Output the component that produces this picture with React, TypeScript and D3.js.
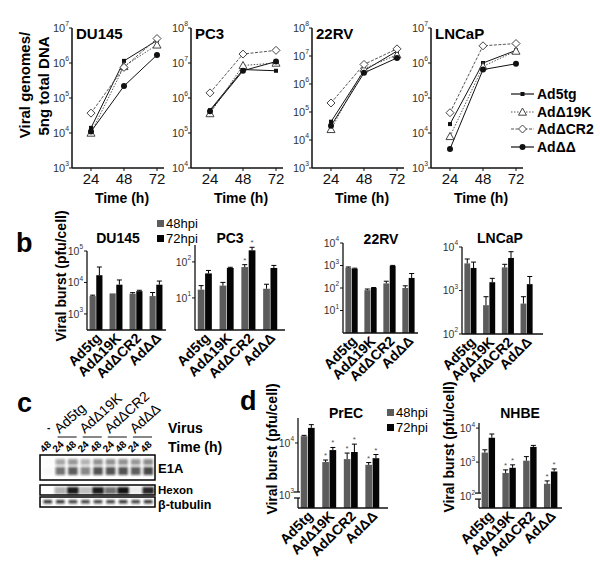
import React from 'react';
import * as d3 from 'd3';

const FONT = 'Liberation Sans, Arial, Helvetica, sans-serif';

const VIRUSES = ['Ad5tg', 'AdΔ19K', 'AdΔCR2', 'AdΔΔ'];
const HOURS = [24, 48, 72];
const HPI = ['48hpi', '72hpi'];

// Panel a: viral genomes / 5 ng total DNA (rows = VIRUSES, cols = HOURS)
const genomesDU145 = [
  [1.4e4, 1.15e6, 4.4e6],
  [1.0e4, 8.0e5, 3.3e6],
  [3.7e4, 7.5e5, 5.0e6],
  [1.1e4, 2.2e5, 1.7e6],
];
const genomesPC3 = [
  [4.5e5, 6.5e6, 6.0e6],
  [3.6e5, 8.5e6, 1.0e7],
  [1.4e6, 1.8e7, 2.3e7],
  [4.2e5, 6.0e6, 1.1e7],
];
const genomes22RV = [
  [4.5e4, 3.0e6, 1.5e7],
  [2.4e4, 3.5e6, 1.1e7],
  [2.1e5, 5.0e6, 1.8e7],
  [3.2e4, 2.5e6, 8.5e6],
];
const genomesLNCaP = [
  [1.8e4, 1.0e6, 2.3e6],
  [8.0e3, 8.0e5, 2.2e6],
  [3.8e4, 3.1e6, 3.6e6],
  [3.5e3, 6.5e5, 9.5e5],
];

// Panel b: viral burst (pfu/cell), 48 hpi and 72 hpi, with upper error
const burst48DU145 = [3700, 4500, 4400, 3700];
const burst72DU145 = [17000, 8500, 5300, 8500];
const err48DU145 = [250, 0, 350, 1100];
const err72DU145 = [14000, 3500, 350, 2600];

const burst48PC3 = [17, 22, 72, 18];
const burst72PC3 = [48, 68, 210, 68];
const err48PC3 = [5, 5, 12, 6];
const err72PC3 = [10, 3, 45, 12];

const burst48_22RV = [800, 80, 160, 100];
const burst72_22RV = [720, 100, 950, 280];
const err48_22RV = [60, 10, 40, 25];
const err72_22RV = [40, 5, 60, 160];

const burst48LNCaP = [4200, 460, 3400, 500];
const burst72LNCaP = [3300, 1550, 5600, 1400];
const err48LNCaP = [1100, 260, 600, 220];
const err72LNCaP = [1200, 350, 2200, 700];

// Panel d
const burst48PrEC = [13500, 4300, 4900, 3800];
const burst72PrEC = [19500, 7300, 6700, 5100];
const err48PrEC = [500, 400, 1500, 400];
const err72PrEC = [3000, 900, 2800, 900];
const star48PrEC = [false, true, true, true];
const star72PrEC = [false, true, true, true];

const burst48NHBE = [1900, 480, 1100, 230];
const burst72NHBE = [5200, 680, 2800, 530];
const err48NHBE = [400, 110, 350, 50];
const err72NHBE = [1500, 150, 300, 100];
const star48NHBE = [false, true, false, true];
const star72NHBE = [false, true, false, true];

const star48PC3 = [false, false, true, false];
const star72PC3 = [false, false, true, false];
const noStars = [false, false, false, false];

// Panel c: western blot lanes
const laneTimes = ['48', '24', '48', '24', '48', '24', '48', '24', '48'];
const e1aSignal = [0.03, 0.7, 0.8, 0.6, 0.85, 0.85, 0.85, 0.8, 0.9];
const hexonSignal = [0.0, 0.3, 0.95, 0.25, 0.95, 0.6, 0.98, 0.08, 0.9];
const tubulinSignal = [0.85, 0.85, 0.8, 0.8, 0.8, 0.8, 0.85, 0.8, 0.85];

const GRAY = '#5c5c5c';

function Pow({ x, y, exp, size = 11, fill = '#333' }: any) {
  return (
    <text x={x} y={y + size * 0.35} fontSize={size} textAnchor="end" fill={fill} fontFamily={FONT}>
      10
      <tspan fontSize={size * 0.62} dy={-size * 0.5}>{exp}</tspan>
    </text>
  );
}

function Marker({ kind, cx, cy }: any) {
  if (kind === 0) return <rect x={cx - 2} y={cy - 2} width={4} height={4} fill="#111" />;
  if (kind === 1) {
    const s = 4;
    return <path d={`M${cx},${cy - s} L${cx + s},${cy + s * 0.8} L${cx - s},${cy + s * 0.8}Z`} fill="#fff" stroke="#444" strokeWidth={1} />;
  }
  if (kind === 2) {
    const s = 4;
    return <path d={`M${cx},${cy - s} L${cx + s},${cy} L${cx},${cy + s} L${cx - s},${cy}Z`} fill="#fff" stroke="#444" strokeWidth={1} />;
  }
  return <circle cx={cx} cy={cy} r={3} fill="#111" />;
}

const lineDash = [undefined, '1.5,1.5', '3,1.5', undefined];
const lineColor = ['#111', '#555', '#555', '#111'];

function LinePanel({ title, data, x0, lo, hi }: any) {
  const top = 28, bottom = 168;
  const x = d3.scaleLinear().domain([24, 72]).range([x0 + 19, x0 + 85]);
  const y = d3.scaleLog().domain([10 ** lo, 10 ** hi]).range([bottom, top]);
  const line = d3.line<number>().x((_, i) => x(HOURS[i])).y((d) => y(d));
  const exps = d3.range(lo, hi + 1);
  return (
    <g>
      <line x1={x0} x2={x0} y1={top} y2={bottom} stroke="#111" strokeWidth={1.5} />
      <line x1={x0} x2={x0 + 92} y1={bottom} y2={bottom} stroke="#111" strokeWidth={1.5} />
      {exps.map((e) => (
        <g key={e}>
          <line x1={x0 - 3} x2={x0} y1={y(10 ** e)} y2={y(10 ** e)} stroke="#111" />
          <Pow x={x0 - 3} y={y(10 ** e)} exp={e} />
        </g>
      ))}
      {HOURS.map((h) => (
        <g key={h}>
          <line x1={x(h)} x2={x(h)} y1={bottom} y2={bottom + 3} stroke="#111" />
          <text x={x(h)} y={184} fontSize={15} textAnchor="middle" fontFamily={FONT} fill="#111">{h}</text>
        </g>
      ))}
      <text x={x0 + 50} y={203} fontSize={14} fontWeight="bold" textAnchor="middle" fontFamily={FONT}>Time (h)</text>
      <text x={x0 + 4} y={39} fontSize={15} fontWeight="bold" fontFamily={FONT}>{title}</text>
      {data.map((row: number[], i: number) => (
        <path key={i} d={line(row) || ''} fill="none" stroke={lineColor[i]} strokeWidth={1} strokeDasharray={lineDash[i]} />
      ))}
      {data.map((row: number[], i: number) =>
        row.map((v, j) => <Marker key={i + '-' + j} kind={i} cx={x(HOURS[j])} cy={y(v)} />)
      )}
    </g>
  );
}

function BarPanel({ title, tx, ty, v48, v72, e48, e72, s48, s72, x0, x1, axisEnd, yTop, yBottom, lo, hi, ticks, brk }: any) {
  const y = d3.scaleLog().domain([10 ** lo, 10 ** hi]).range([yBottom, yTop]);
  const xb = d3.scaleBand().domain(VIRUSES).range([x0, x1]).paddingInner(0.3).paddingOuter(0.1);
  const xs = d3.scaleBand().domain(HPI).range([0, xb.bandwidth()]).padding(0.08);
  const series = [
    { key: HPI[0], vals: v48, errs: e48, stars: s48, fill: GRAY },
    { key: HPI[1], vals: v72, errs: e72, stars: s72, fill: '#050505' },
  ];
  return (
    <g fontFamily={FONT}>
      <text x={tx} y={ty} fontSize={14} fontWeight="bold" textAnchor="middle">{title}</text>
      {series.map((s) =>
        VIRUSES.map((v, i) => {
          const bx = (xb(v) as number) + (xs(s.key) as number);
          const w = xs.bandwidth();
          const top = y(s.vals[i]);
          const etop = y(s.vals[i] + s.errs[i]);
          const cx = bx + w / 2;
          return (
            <g key={s.key + v}>
              <rect x={bx} y={top} width={w} height={yBottom - top} fill={s.fill} />
              {s.errs[i] > 0 && (
                <g stroke="#000" strokeWidth={1}>
                  <line x1={cx} x2={cx} y1={top} y2={etop} />
                  <line x1={cx - 2.5} x2={cx + 2.5} y1={etop} y2={etop} />
                </g>
              )}
              {s.stars[i] && (
                <text x={cx} y={etop - 2} fontSize={8} textAnchor="middle" fill="#555">*</text>
              )}
            </g>
          );
        })
      )}
      {brk ? (
        <g stroke="#111" strokeWidth={1.3}>
          <line x1={x0} x2={x0} y1={yTop} y2={y(10 ** brk) - 3} />
          <line x1={x0} x2={x0} y1={y(10 ** brk) + 3} y2={yBottom} />
          <line x1={x0 - 4} x2={x0 + 2} y1={y(10 ** brk) - 3} y2={y(10 ** brk) - 3} />
          <line x1={x0 - 4} x2={x0 + 2} y1={y(10 ** brk) + 3} y2={y(10 ** brk) + 3} />
        </g>
      ) : (
        <line x1={x0} x2={x0} y1={yTop} y2={yBottom} stroke="#111" strokeWidth={1.3} />
      )}
      <line x1={x0} x2={axisEnd} y1={yBottom} y2={yBottom} stroke="#111" strokeWidth={1.3} />
      {ticks.map((e: number) => (
        <g key={e}>
          {e !== brk && <line x1={x0 - 3} x2={x0} y1={y(10 ** e)} y2={y(10 ** e)} stroke="#111" />}
          <Pow x={x0 - 4} y={y(10 ** e)} exp={e} size={10.5} />
        </g>
      ))}
      {VIRUSES.map((v) => {
        const cx = (xb(v) as number) + xb.bandwidth() / 2;
        return (
          <text key={v} transform={`translate(${cx + 6},${yBottom + 9}) rotate(-45)`} fontSize={14} fontWeight="bold" textAnchor="end">
            {v}
          </text>
        );
      })}
    </g>
  );
}

function HpiLegend({ x, y }: any) {
  return (
    <g fontFamily={FONT} fontSize={13}>
      {HPI.map((h, i) => (
        <g key={h}>
          <rect x={x} y={y + i * 15 - 8} width={7} height={7} fill={i === 0 ? GRAY : '#050505'} />
          <text x={x + 9} y={y + i * 15}>{h}</text>
        </g>
      ))}
    </g>
  );
}

function Blot() {
  const lane = d3.scaleBand<number>().domain(d3.range(9)).range([41, 155]).padding(0.08);
  const pairs = [1, 3, 5, 7];
  return (
    <g fontFamily={FONT}>
      <defs>
        <filter id="blur1" x="-20%" y="-50%" width="140%" height="200%">
          <feGaussianBlur stdDeviation="1.1" />
        </filter>
      </defs>
      {laneTimes.map((t, i) => (
        <text key={i} transform={`translate(${(lane(i) as number) + 2},${453}) rotate(-45)`} fontSize={10} fontWeight="bold">{t}</text>
      ))}
      <text x={47} y={431} fontSize={10} fontWeight="bold">-</text>
      {pairs.map((p, k) => {
        const l = lane(p) as number;
        const r = (lane(p + 1) as number) + lane.bandwidth();
        return (
          <g key={p}>
            <line x1={l + 3} x2={r - 2} y1={437} y2={437} stroke="#111" strokeWidth={1} />
            <text transform={`translate(${l + 5},${434}) rotate(-42)`} fontSize={14}>{VIRUSES[k]}</text>
          </g>
        );
      })}
      <text x={168} y={433} fontSize={14} fontWeight="bold">Virus</text>
      <text x={168} y={452} fontSize={14} fontWeight="bold">Time (h)</text>

      <rect x={40} y={455} width={115} height={25} fill="#fff" />
      <g filter="url(#blur1)">
        {e1aSignal.map((s, i) => (
          <g key={i}>
            <rect x={(lane(i) as number) + 1} y={459} width={lane.bandwidth() - 2} height={6} fill="#111" opacity={s * 0.55} />
            <rect x={(lane(i) as number) + 1} y={467} width={lane.bandwidth() - 2} height={8} fill="#111" opacity={s * 0.85} />
          </g>
        ))}
      </g>
      <rect x={40} y={455} width={115} height={25} fill="none" stroke="#000" strokeWidth={1.5} />
      <text x={158} y={473} fontSize={13} fontWeight="bold">E1A</text>

      <rect x={40} y={485} width={115} height={10} fill="#fff" />
      <g filter="url(#blur1)">
        {hexonSignal.map((s, i) => (
          <rect key={i} x={(lane(i) as number)} y={487} width={lane.bandwidth()} height={7} fill="#111" opacity={s} />
        ))}
      </g>
      <rect x={40} y={485} width={115} height={10} fill="none" stroke="#000" strokeWidth={1.5} />
      <text x={158} y={494} fontSize={11.5} fontWeight="bold">Hexon</text>

      <rect x={40} y={497} width={115} height={10} fill="#fff" />
      <g filter="url(#blur1)">
        {tubulinSignal.map((s, i) => (
          <rect key={i} x={(lane(i) as number) + 1.5} y={500} width={lane.bandwidth() - 3} height={3.5} fill="#111" opacity={s} />
        ))}
      </g>
      <rect x={40} y={497} width={115} height={10} fill="none" stroke="#000" strokeWidth={1.5} />
      <text x={158} y={508.5} fontSize={12.5} fontWeight="bold">β-tubulin</text>
    </g>
  );
}

export default function App() {
  const legendRows = [94, 112, 129, 147];
  return (
    <svg width={600} height={571} style={{ position: 'absolute', left: 0, top: 0, background: '#fff' }} fontFamily={FONT}>
      <rect width={600} height={571} fill="#fff" />
      {/* Panel a */}
      <text transform="translate(30,85) rotate(-90)" fontSize={15} fontWeight="bold" textAnchor="middle">Viral genomes/</text>
      <text transform="translate(49,86) rotate(-90)" fontSize={15} fontWeight="bold" textAnchor="middle">5ng total DNA</text>
      <LinePanel title="DU145" data={genomesDU145} x0={72} lo={3} hi={7} />
      <LinePanel title="PC3" data={genomesPC3} x0={191} lo={4} hi={8} />
      <LinePanel title="22RV" data={genomes22RV} x0={312} lo={3} hi={8} />
      <LinePanel title="LNCaP" data={genomesLNCaP} x0={431} lo={3} hi={7} />
      <g>
        {VIRUSES.map((v, i) => (
          <g key={v}>
            <line x1={511} x2={534} y1={legendRows[i]} y2={legendRows[i]} stroke={lineColor[i]} strokeDasharray={lineDash[i]} strokeWidth={1.2} />
            <Marker kind={i} cx={522.5} cy={legendRows[i]} />
            <text x={537} y={legendRows[i] + 5} fontSize={14} fontWeight="bold">{v}</text>
          </g>
        ))}
      </g>

      {/* Panel b */}
      <text x={16} y={252} fontSize={27} fontWeight="bold">b</text>
      <text transform="translate(66,276) rotate(-90)" fontSize={14} fontWeight="bold" textAnchor="middle">Viral burst (pfu/cell)</text>
      <HpiLegend x={157} y={228} />
      <BarPanel title="DU145" tx={118} ty={243} v48={burst48DU145} v72={burst72DU145} e48={err48DU145} e72={err72DU145}
        s48={noStars} s72={noStars} x0={87} x1={165} axisEnd={166} yTop={251} yBottom={330} lo={2.49} hi={5} ticks={[3, 4, 5]} />
      <BarPanel title="PC3" tx={230} ty={243} v48={burst48PC3} v72={burst72PC3} e48={err48PC3} e72={err72PC3}
        s48={star48PC3} s72={star72PC3} x0={195} x1={280} axisEnd={285} yTop={245} yBottom={330} lo={0.11} hi={2.47} ticks={[1, 2]} />
      <BarPanel title="22RV" tx={381} ty={244} v48={burst48_22RV} v72={burst72_22RV} e48={err48_22RV} e72={err72_22RV}
        s48={noStars} s72={noStars} x0={343} x1={417} axisEnd={418} yTop={243} yBottom={333} lo={0} hi={4} ticks={[1, 2, 3, 4]} />
      <BarPanel title="LNCaP" tx={500} ty={243} v48={burst48LNCaP} v72={burst72LNCaP} e48={err48LNCaP} e72={err72LNCaP}
        s48={noStars} s72={noStars} x0={462} x1={535} axisEnd={543} yTop={247} yBottom={334} lo={2} hi={4} ticks={[2, 3, 4]} />

      {/* Panel c */}
      <text x={17} y={412} fontSize={27} fontWeight="bold">c</text>
      <Blot />

      {/* Panel d */}
      <text x={240} y={410} fontSize={27} fontWeight="bold">d</text>
      <text transform="translate(277,449) rotate(-90)" fontSize={14} fontWeight="bold" textAnchor="middle">Viral burst (pfu/cell)</text>
      <text transform="translate(454,447) rotate(-90)" fontSize={14} fontWeight="bold" textAnchor="middle">Viral burst (pfu/cell)</text>
      <HpiLegend x={387} y={417} />
      <BarPanel title="PrEC" tx={346} ty={418} v48={burst48PrEC} v72={burst72PrEC} e48={err48PrEC} e72={err72PrEC}
        s48={star48PrEC} s72={star72PrEC} x0={298} x1={382} axisEnd={388} yTop={418} yBottom={508} lo={2.75} hi={4.48} ticks={[3, 4]} brk={3} />
      <BarPanel title="NHBE" tx={520} ty={418} v48={burst48NHBE} v72={burst72NHBE} e48={err48NHBE} e72={err72NHBE}
        s48={star48NHBE} s72={star72NHBE} x0={479} x1={560} axisEnd={562} yTop={423} yBottom={508} lo={1.65} hi={4.15} ticks={[2, 3, 4]} brk={2} />
    </svg>
  );
}
